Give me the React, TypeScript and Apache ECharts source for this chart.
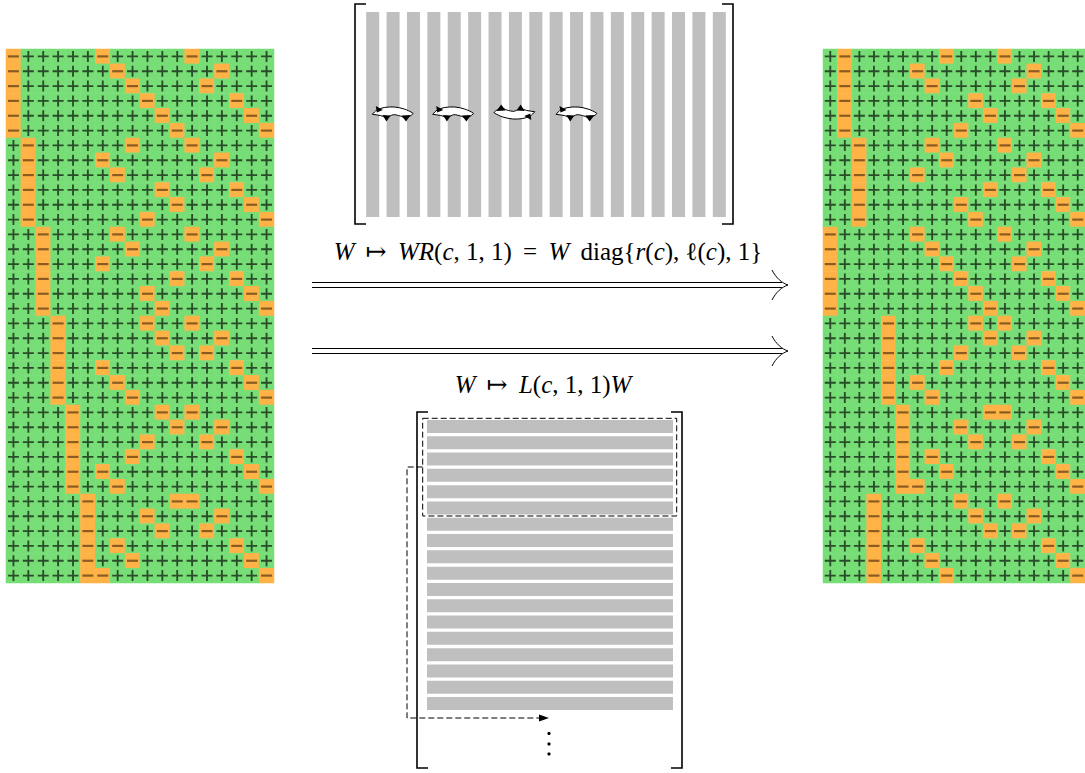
import React, { useEffect, useRef } from "react";
import * as echarts from "echarts";

// ---------- data ----------
const gridCols = ["0","1","2","3","4","5","6","7","8","9","10","11","12","13","14","15","16","17"];
const gridRows = ["0","1","2","3","4","5","6","7","8","9","10","11","12","13","14","15","16","17",
  "18","19","20","21","22","23","24","25","26","27","28","29","30","31","32","33","34","35"];

// columns holding a "−" in each row (all other cells are "+")
const leftMinus: number[][] = [
  [0, 6, 12], [0, 7, 14], [0, 8, 13], [0, 9, 15], [0, 10, 16], [0, 11, 17],
  [1, 8, 12], [1, 6, 14], [1, 7, 13], [1, 10, 15], [1, 11, 16], [1, 9, 17],
  [2, 7, 12], [2, 8, 14], [2, 6, 13], [2, 11, 15], [2, 9, 16], [2, 10, 17],
  [3, 9, 12], [3, 10, 14], [3, 11, 13], [3, 6, 15], [3, 7, 16], [3, 8, 17],
  [4, 10, 12], [4, 11, 14], [4, 9, 13], [4, 8, 15], [4, 6, 16], [4, 7, 17],
  [5, 11, 12], [5, 9, 14], [5, 10, 13], [5, 7, 15], [5, 8, 16], [5, 6, 17],
];
const rightMinus: number[][] = [
  [1, 8, 12], [1, 6, 14], [1, 7, 13], [1, 10, 15], [1, 11, 16], [1, 9, 17],
  [2, 7, 12], [2, 8, 14], [2, 6, 13], [2, 11, 15], [2, 9, 16], [2, 10, 17],
  [0, 6, 12], [0, 7, 14], [0, 8, 13], [0, 9, 15], [0, 10, 16], [0, 11, 17],
  [4, 10, 12], [4, 11, 14], [4, 9, 13], [4, 8, 15], [4, 6, 16], [4, 7, 17],
  [5, 11, 12], [5, 9, 14], [5, 10, 13], [5, 7, 15], [5, 8, 16], [5, 6, 17],
  [3, 9, 12], [3, 10, 14], [3, 11, 13], [3, 6, 15], [3, 7, 16], [3, 8, 17],
];

const stripeCats = ["c1","c2","c3","c4","c5","c6","c7","c8","c9","c10","c11","c12","c13","c14","c15","c16","c17","c18"];
const topStripes = [1, 1, 1, 1, 1, 1, 1, 1, 1, 1, 1, 1, 1, 1, 1, 1, 1, 1];
const bottomStripes = [1, 1, 1, 1, 1, 1, 1, 1, 1, 1, 1, 1, 1, 1, 1, 1, 1, 1];

const TH = "\u2009"; // thin space
const label1 =
  `{i|W}{n| ${TH}↦${TH} }{i|WR}{n|(}{i|c}{n|, 1, 1) ${TH}= ${TH}}{i|W}{n|${TH} diag{}{i|r}{n|(}{i|c}{n|), }{n|ℓ}{n|(}{i|c}{n|), 1}}`;
const label2 = `{i|W}{n| ${TH}↦${TH} }{i|L}{n|(}{i|c}{n|, 1, 1)}{i|W}`;

// ---------- helpers ----------
function buildCells(minus: number[][]) {
  const heat: number[][] = [];
  const plus: number[][] = [];
  const neg: number[][] = [];
  minus.forEach((cols, r) => {
    gridCols.forEach((_, c) => {
      const m = cols.indexOf(c) >= 0;
      heat.push([c, r, m ? -1 : 1]);
      (m ? neg : plus).push([c, r]);
    });
  });
  return { heat, plus, neg };
}

const PLUS_PATH = "path://M5,0H7V5H12V7H7V12H5V7H0V5H5Z";
const MINUS_PATH = "path://M0,0H12V2H0Z";
const TOP = 100;

function swapArrow(x0: number, flip: boolean) {
  const y0 = 113;
  const w = 40.5;
  const tr = (p: number[]) =>
    flip ? [x0 + w - p[0], y0 - p[1]] : [x0 + p[0], y0 + p[1]];
  const outline = [
    [0, 1.3], [4.5, -3], [12, -5.5], [22, -6], [32, -4], [40.5, 0], [40.5, 1],
    [34, 5], [28, 3], [21, 1.7], [14.5, 4.3], [8, 2.5], [0, 1.3],
  ].map(tr);
  const tri = (pts: number[][]) => ({
    type: "polygon",
    shape: { points: pts.map(tr) },
    style: { fill: "#000" },
    silent: true,
    z: TOP + 1,
  });
  return [
    {
      type: "polygon",
      shape: { points: outline, smooth: 0.3 },
      style: { fill: "#fff", stroke: "#000", lineWidth: 1 },
      silent: true,
      z: TOP,
    },
    tri([[3.5, -7], [10.5, -3], [4.5, -0.5]]),
    tri([[10.2, 2], [18.2, 2.5], [14.2, 8.5]]),
    tri([[29.2, 2.5], [38.2, 2], [33.7, 8.5]]),
  ];
}

function doubleArrow(y: number) {
  const x1 = 312;
  const tip = 788;
  const st = { stroke: "#000", lineWidth: 1, fill: null };
  return [
    { type: "line", shape: { x1, y1: y - 2.5, x2: tip - 6, y2: y - 2.5 }, style: st, silent: true, z: TOP },
    { type: "line", shape: { x1, y1: y + 2.5, x2: tip - 6, y2: y + 2.5 }, style: st, silent: true, z: TOP },
    {
      type: "bezierCurve",
      shape: { x1: tip - 16, y1: y - 15, cpx1: tip - 12, cpy1: y - 7, cpx2: tip - 6, cpy2: y - 2, x2: tip, y2: y },
      style: st, silent: true, z: TOP,
    },
    {
      type: "bezierCurve",
      shape: { x1: tip - 16, y1: y + 15, cpx1: tip - 12, cpy1: y + 7, cpx2: tip - 6, cpy2: y + 2, x2: tip, y2: y },
      style: st, silent: true, z: TOP,
    },
  ];
}

function bracket(xv: number, xe: number, y1: number, y2: number) {
  return {
    type: "polyline",
    shape: { points: [[xe, y1], [xv, y1], [xv, y2], [xe, y2]] },
    style: { stroke: "#000", lineWidth: 1.6, fill: null },
    silent: true,
    z: TOP,
  };
}

const FS = 25;
const FF = "'Liberation Serif', 'DejaVu Serif', serif";
const richStyles = {
  i: { fontFamily: FF, fontStyle: "italic", fontSize: FS, fill: "#000" },
  n: { fontFamily: FF, fontSize: FS, fill: "#000" },
};

export default function App() {
  const ref = useRef<HTMLDivElement>(null);

  useEffect(() => {
    if (!ref.current) return;
    const chart = echarts.init(ref.current, undefined, { renderer: "svg" });
    const L = buildCells(leftMinus);
    const R = buildCells(rightMinus);

    const catX = (gi: number) => ({
      type: "category", data: gridCols, gridIndex: gi, show: false, boundaryGap: true,
    });
    const catY = (gi: number) => ({
      type: "category", data: gridRows, gridIndex: gi, show: false, inverse: true, boundaryGap: true,
    });

    const plusSeries = (data: number[][], gi: number) => ({
      type: "scatter", xAxisIndex: gi, yAxisIndex: gi, data, symbol: PLUS_PATH, symbolSize: 11,
      itemStyle: { color: "#1f3d1f", opacity: 0.9 }, silent: true, z: 3,
    });
    const minusSeries = (data: number[][], gi: number) => ({
      type: "scatter", xAxisIndex: gi, yAxisIndex: gi, data, symbol: MINUS_PATH, symbolSize: [11, 2.2],
      itemStyle: { color: "#8a5c22", opacity: 1 }, silent: true, z: 3,
    });

    const textStyle = (text: string) => ({
      text, rich: richStyles, fontFamily: FF, fontSize: FS, fill: "#000",
      align: "center", verticalAlign: "middle",
    });

    const graphic: any[] = [
      bracket(355, 366, 4, 224),
      bracket(733, 722, 4, 224),
      bracket(417, 428, 412, 768),
      bracket(682, 671, 412, 768),
      ...swapArrow(372.3, false),
      ...swapArrow(432.7, false),
      ...swapArrow(494.3, true),
      ...swapArrow(556, false),
      { type: "text", x: 548, y: 251, style: textStyle(label1), silent: true, z: TOP },
      ...doubleArrow(285),
      ...doubleArrow(351),
      { type: "text", x: 543, y: 384, style: textStyle(label2), silent: true, z: TOP },
      {
        type: "rect",
        shape: { x: 422.7, y: 418.3, width: 254, height: 97.7 },
        style: { fill: null, stroke: "#000", lineWidth: 1, lineDash: [6, 3] },
        silent: true, z: TOP,
      },
      {
        type: "polyline",
        shape: { points: [[422.7, 467], [407, 467], [407, 718], [541, 718]] },
        style: { fill: null, stroke: "#000", lineWidth: 1, lineDash: [6, 3] },
        silent: true, z: TOP,
      },
      {
        type: "polygon",
        shape: { points: [[539, 714.5], [549, 718], [539, 721.5]] },
        style: { fill: "#000" },
        silent: true, z: TOP,
      },
      { type: "circle", shape: { cx: 549, cy: 733.5, r: 1.6 }, style: { fill: "#000" }, silent: true, z: TOP },
      { type: "circle", shape: { cx: 549, cy: 744, r: 1.6 }, style: { fill: "#000" }, silent: true, z: TOP },
      { type: "circle", shape: { cx: 549, cy: 754, r: 1.6 }, style: { fill: "#000" }, silent: true, z: TOP },
    ];

    chart.setOption({
      animation: false,
      backgroundColor: "#ffffff",
      grid: [
        { left: 6, top: 49, width: 268, height: 534 },
        { left: 823, top: 49, width: 268, height: 534 },
        { left: 362.5, top: 12, width: 367, height: 205 },
        { left: 427, top: 418.3, width: 246, height: 293.4 },
      ],
      xAxis: [
        catX(0), catX(1),
        { type: "category", data: stripeCats, gridIndex: 2, show: false },
        { type: "value", gridIndex: 3, min: 0, max: 1, show: false },
      ],
      yAxis: [
        catY(0), catY(1),
        { type: "value", gridIndex: 2, min: 0, max: 1, show: false },
        { type: "category", data: stripeCats, gridIndex: 3, show: false, inverse: true },
      ],
      visualMap: {
        type: "piecewise", show: false, dimension: 2, seriesIndex: [0, 3],
        pieces: [
          { value: 1, color: "#77dd77" },
          { value: -1, color: "#ffb347" },
        ],
      },
      series: [
        { type: "heatmap", xAxisIndex: 0, yAxisIndex: 0, data: L.heat, silent: true, itemStyle: { borderWidth: 0 } },
        plusSeries(L.plus, 0),
        minusSeries(L.neg, 0),
        { type: "heatmap", xAxisIndex: 1, yAxisIndex: 1, data: R.heat, silent: true, itemStyle: { borderWidth: 0 } },
        plusSeries(R.plus, 1),
        minusSeries(R.neg, 1),
        {
          type: "bar", xAxisIndex: 2, yAxisIndex: 2, data: topStripes, barWidth: 13,
          itemStyle: { color: "#bfbfbf" }, silent: true, z: 2,
        },
        {
          type: "bar", xAxisIndex: 3, yAxisIndex: 3, data: bottomStripes, barWidth: 13,
          itemStyle: { color: "#bfbfbf" }, silent: true, z: 2,
        },
      ],
      graphic,
    });

    return () => chart.dispose();
  }, []);

  return (
    <div
      ref={ref}
      style={{ position: "fixed", left: 0, top: 0, width: 1085, height: 773, background: "#fff" }}
    />
  );
}
